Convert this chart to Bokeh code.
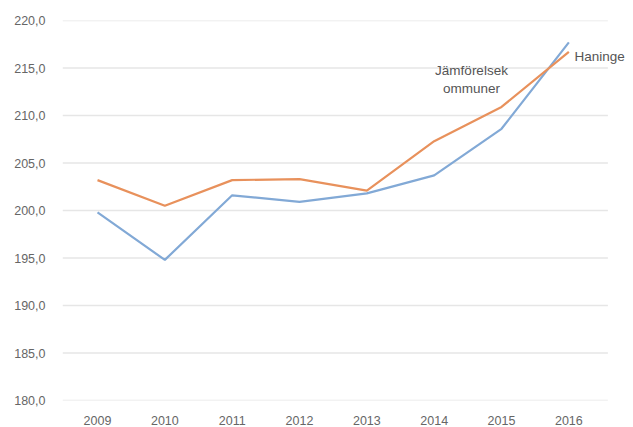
from bokeh.plotting import figure
from bokeh.models import Range1d, FixedTicker, Label
from bokeh.embed import file_html
from bokeh.resources import INLINE

years = ["2009", "2010", "2011", "2012", "2013", "2014", "2015", "2016"]
haninge = [203.2, 200.5, 203.2, 203.3, 202.1, 207.3, 210.9, 216.7]
jamforelse = [199.8, 194.8, 201.6, 200.9, 201.8, 203.7, 208.6, 217.7]
y_ticks = [180, 185, 190, 195, 200, 205, 210, 215, 220]
y_tick_labels = ["180,0", "185,0", "190,0", "195,0", "200,0", "205,0", "210,0", "215,0", "220,0"]

xs = list(range(len(years)))
x_start, x_end = -0.52, 7.96
grid_end = 7.58

p = figure(width=633, height=427, x_range=Range1d(x_start, x_end), y_range=Range1d(180, 220),
           output_backend="svg", toolbar_location=None,
           min_border_left=62, min_border_right=0, min_border_top=20, min_border_bottom=25)
p.outline_line_color = None
p.background_fill_color = "white"
p.border_fill_color = "white"
p.xgrid.grid_line_color = None
p.ygrid.grid_line_color = None

# horizontal grid lines that stop short of the right-hand label area
p.segment(x0=[x_start] * len(y_ticks), x1=[grid_end] * len(y_ticks), y0=y_ticks, y1=y_ticks,
          line_color="#e6e6e6", line_width=1.5)

p.yaxis.ticker = FixedTicker(ticks=y_ticks)
p.yaxis.major_label_overrides = {t: l for t, l in zip(y_ticks, y_tick_labels)}
p.xaxis.ticker = FixedTicker(ticks=xs)
p.xaxis.major_label_overrides = {i: y for i, y in zip(xs, years)}
for ax in (p.xaxis[0], p.yaxis[0]):
    ax.axis_line_color = None
    ax.major_tick_line_color = None
    ax.minor_tick_line_color = None
    ax.major_label_text_color = "#666666"
    ax.major_label_text_font = "Liberation Sans"
    ax.major_label_text_font_size = "12.5px"
p.yaxis.major_label_standoff = 11
p.xaxis.major_label_standoff = 9

p.line(xs, jamforelse, line_color="#82a9d6", line_width=2.2)
p.line(xs, haninge, line_color="#e8915c", line_width=2.2)

fh = 402 - 20  # frame height in px
p.add_layout(Label(x=471 - 62, y=fh - (72 - 20), x_units="screen", y_units="screen",
                   text="Jämförelsek", text_align="center", text_baseline="middle",
                   text_font="Liberation Sans", text_font_size="13.5px", text_color="#555555"))
p.add_layout(Label(x=471 - 62, y=fh - (90 - 20), x_units="screen", y_units="screen",
                   text="ommuner", text_align="center", text_baseline="middle",
                   text_font="Liberation Sans", text_font_size="13.5px", text_color="#555555"))
p.add_layout(Label(x=574 - 62, y=fh - (58 - 20), x_units="screen", y_units="screen",
                   text="Haninge", text_align="left", text_baseline="middle",
                   text_font="Liberation Sans", text_font_size="13.5px", text_color="#555555"))

open("out.html", "w").write(file_html(p, INLINE))
